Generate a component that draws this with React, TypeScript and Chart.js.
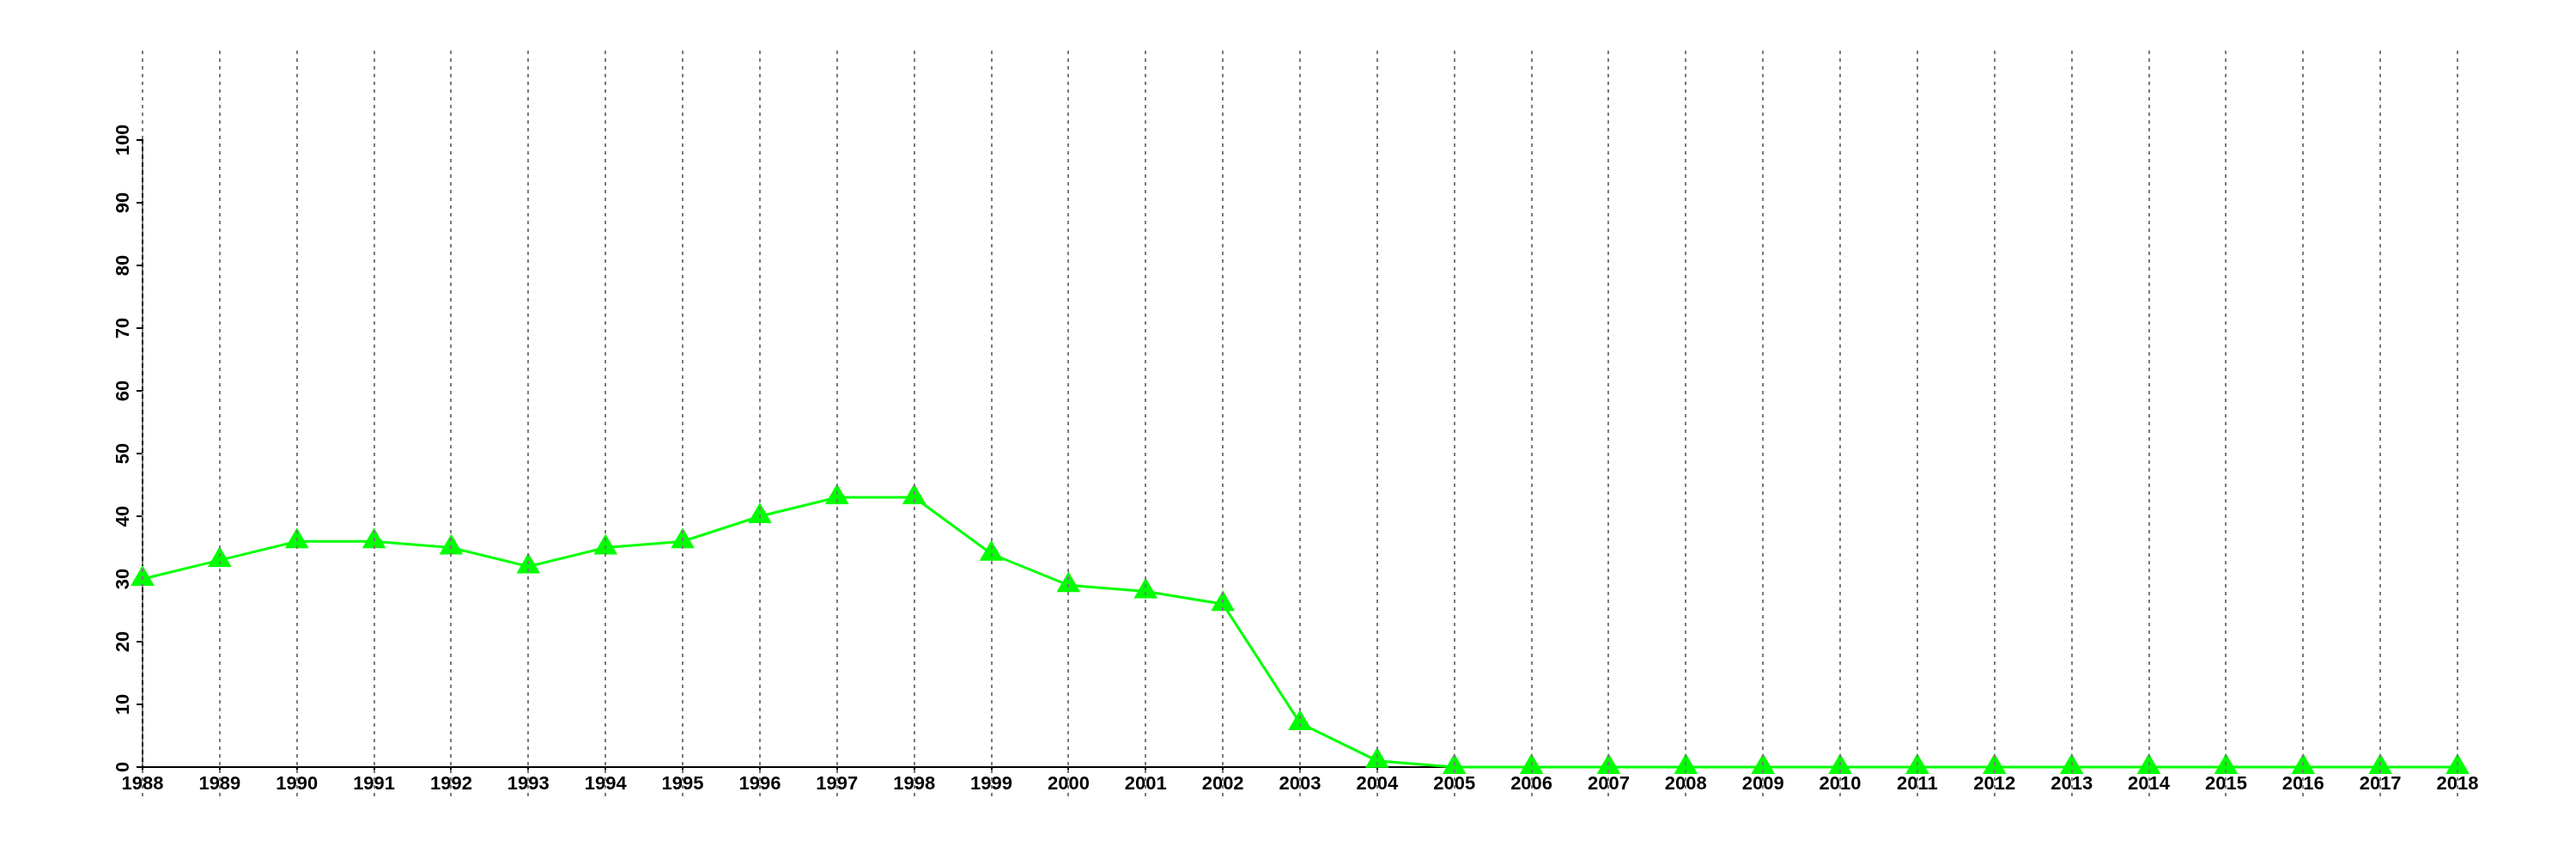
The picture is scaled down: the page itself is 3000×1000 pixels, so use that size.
import React, { useEffect, useRef } from "react";
import { Chart, registerables } from "chart.js";

Chart.register(...registerables);

const years: string[] = [
  "1988", "1989", "1990", "1991", "1992", "1993", "1994", "1995", "1996", "1997",
  "1998", "1999", "2000", "2001", "2002", "2003", "2004", "2005", "2006", "2007",
  "2008", "2009", "2010", "2011", "2012", "2013", "2014", "2015", "2016", "2017", "2018",
];
const values: number[] = [
  30, 33, 36, 36, 35, 32, 35, 36, 40, 43,
  43, 34, 29, 28, 26, 7, 1, 0, 0, 0,
  0, 0, 0, 0, 0, 0, 0, 0, 0, 0, 0,
];
const yTicks: number[] = [0, 10, 20, 30, 40, 50, 60, 70, 80, 90, 100];

const FONT = "'Liberation Sans', Arial, Helvetica, sans-serif";

const gridPlugin = {
  id: "dottedGrid",
  afterDatasetsDraw(chart: any) {
    const ctx = chart.ctx;
    const xs = chart.scales.x;
    ctx.save();
    ctx.strokeStyle = "#7a7a7a";
    ctx.lineWidth = 2;
    ctx.setLineDash([4, 5]);
    for (let i = 0; i < years.length; i++) {
      const px = Math.round(xs.getPixelForValue(i));
      ctx.beginPath();
      ctx.moveTo(px, 59);
      ctx.lineTo(px, 928);
      ctx.stroke();
    }
    ctx.restore();
  },
  afterDraw(chart: any) {
    const ctx = chart.ctx;
    const ys = chart.scales.y;
    ctx.save();
    ctx.fillStyle = "#000";
    ctx.font = `bold 22px ${FONT}`;
    ctx.textAlign = "center";
    ctx.textBaseline = "alphabetic";
    for (const v of yTicks) {
      const py = ys.getPixelForValue(v);
      ctx.save();
      ctx.translate(150, py);
      ctx.rotate(-Math.PI / 2);
      ctx.fillText(String(v), 0, 0);
      ctx.restore();
    }
    ctx.restore();
  },
};

export default function App() {
  const ref = useRef<HTMLCanvasElement | null>(null);
  useEffect(() => {
    document.body.style.margin = "0";
    if (!ref.current) return;
    const chart = new Chart(ref.current, {
      type: "line",
      data: {
        labels: years,
        datasets: [
          {
            data: values,
            borderColor: "#00ff00",
            backgroundColor: "#00ff00",
            borderWidth: 3,
            pointStyle: "triangle",
            pointRadius: 16,
            pointHoverRadius: 16,
            pointBackgroundColor: "#00ff00",
            pointBorderColor: "#00ff00",
            pointBorderWidth: 0,
            tension: 0,
            clip: false,
          } as any,
        ],
      },
      options: {
        animation: false,
        responsive: false,
        maintainAspectRatio: false,
        events: [],
        layout: { padding: { left: 0, right: 138, top: 163, bottom: 0 } },
        plugins: { legend: { display: false }, tooltip: { enabled: false }, title: { display: false } },
        scales: {
          x: {
            type: "category",
            offset: false,
            z: 1,
            grid: {
              display: true,
              drawOnChartArea: false,
              drawTicks: true,
              tickLength: 5,
              color: "#000",
              lineWidth: 2,
            },
            border: { display: true, color: "#000", width: 2 },
            ticks: {
              autoSkip: false,
              maxRotation: 0,
              minRotation: 0,
              color: "#000",
              padding: 2,
              font: { family: FONT, size: 22, weight: "bold" },
            },
            afterFit: (s: any) => {
              s.height = 107;
            },
          },
          y: {
            type: "linear",
            min: 0,
            max: 100,
            z: 1,
            grid: {
              display: true,
              drawOnChartArea: false,
              drawTicks: true,
              tickLength: 7,
              color: "#000",
              lineWidth: 2,
            },
            border: { display: true, color: "#000", width: 2 },
            ticks: { display: false, stepSize: 10 },
            afterFit: (s: any) => {
              s.width = 166;
            },
          },
        },
      },
      plugins: [gridPlugin],
    });
    return () => chart.destroy();
  }, []);
  return (
    <div style={{ width: 3000, height: 1000, position: "relative" }}>
      <canvas ref={ref} width={3000} height={1000} style={{ width: 3000, height: 1000, display: "block" }} />
    </div>
  );
}
